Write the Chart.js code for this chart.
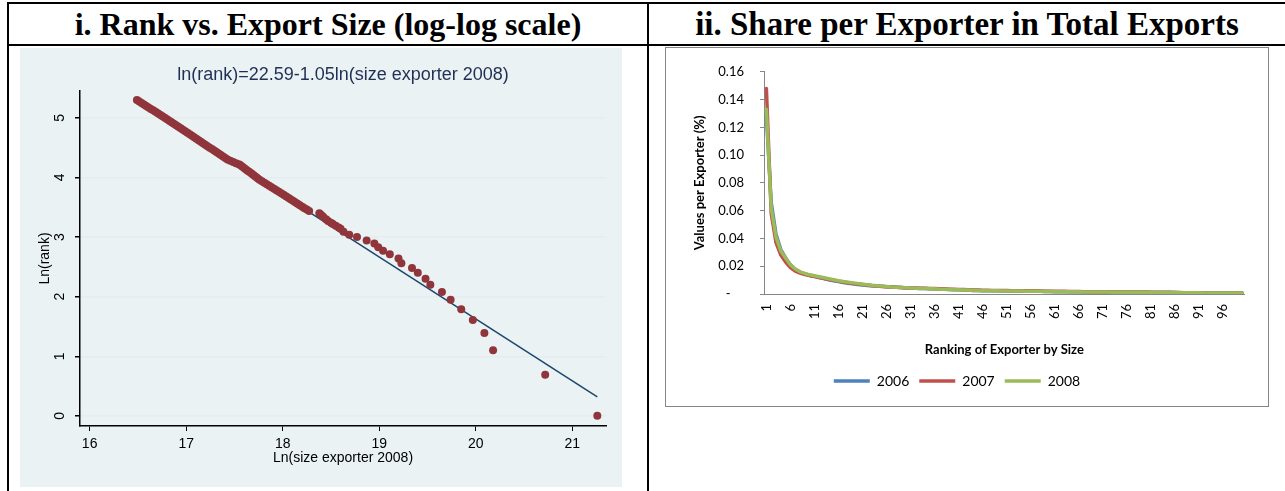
<!DOCTYPE html>
<html lang="en">
<head>
<meta charset="UTF-8">
<title>Rank vs. Export Size / Share per Exporter</title>
<script src="https://cdn.jsdelivr.net/npm/chart.js"></script>
<style>
  body { margin: 0; background: #fff; }
  #page { position: relative; width: 1285px; height: 491px; overflow: hidden; }
  .rule { position: absolute; background: #000; }
  .head {
    position: absolute; top: 4px; height: 40px; line-height: 40px;
    font-family: "Liberation Serif", "Times New Roman", serif;
    font-weight: bold; font-size: 32px; text-align: center; color: #000;
  }
  #leftBox { position: absolute; left: 20px; top: 48px; width: 602px; height: 439px; background: #eaf2f3; }
  #rightBox { position: absolute; left: 665px; top: 47px; width: 604px; height: 360px; border: 1px solid #868686; box-sizing: border-box; }
</style>
</head>
<body>
<div id="page">
  <div class="rule" style="left:7px; top:2px; width:1278px; height:2px;"></div>
  <div class="rule" style="left:7px; top:44px; width:1278px; height:2px;"></div>
  <div class="rule" style="left:7px; top:2px; width:2px; height:489px;"></div>
  <div class="rule" style="left:647px; top:2px; width:2px; height:489px;"></div>
  <div class="head" style="left:9px; width:638px;">i. Rank vs. Export Size (log-log scale)</div>
  <div class="head" style="left:649px; width:636px; font-size:33px;">ii. Share per Exporter in Total Exports</div>

  <div id="leftBox"><canvas id="rankChart" width="602" height="439"></canvas></div>
  <div id="rightBox"><canvas id="shareChart" width="602" height="358"></canvas></div>
</div>

<script>
// ---------- panel i: rank vs size (log-log) ----------
const lnSize = [
  16.490, 16.514, 16.538, 16.562, 16.586, 16.610, 16.634, 16.658, 16.682, 16.706, 16.730, 16.754, 16.778,
  16.802, 16.825, 16.849, 16.872, 16.896, 16.919, 16.943, 16.966, 16.990, 17.013, 17.037, 17.060,
  17.083, 17.106, 17.129, 17.152, 17.175, 17.198, 17.221, 17.244, 17.267, 17.290, 17.313, 17.336, 17.359, 17.382, 17.405, 17.428,
  17.457, 17.487, 17.516, 17.545, 17.560,
  17.580, 17.600, 17.620, 17.640, 17.660, 17.680, 17.700, 17.720, 17.740, 17.760,
  17.785, 17.810, 17.835, 17.860, 17.885, 17.910, 17.935, 17.960, 17.985, 18.010,
  18.034, 18.058, 18.082, 18.106, 18.130, 18.154, 18.178, 18.202, 18.226, 18.250, 18.274,
  18.38, 18.40, 18.42, 18.45, 18.47, 18.50, 18.52, 18.55, 18.58, 18.60, 18.63, 18.69, 18.77, 18.87,
  18.95, 18.99, 19.04, 19.11, 19.20, 19.23, 19.34, 19.40, 19.48, 19.53, 19.65, 19.74, 19.85, 19.97,
  20.09, 20.18, 20.72, 21.26
];
const lnRank = [
  5.300, 5.275, 5.250, 5.225, 5.200, 5.175, 5.150, 5.125, 5.100, 5.075, 5.050, 5.025, 5.000,
  4.975, 4.950, 4.925, 4.900, 4.875, 4.850, 4.825, 4.800, 4.775, 4.750, 4.725, 4.700,
  4.675, 4.650, 4.625, 4.600, 4.575, 4.550, 4.525, 4.500, 4.475, 4.450, 4.425, 4.400, 4.375, 4.350, 4.325, 4.300,
  4.280, 4.260, 4.240, 4.220, 4.210,
  4.185, 4.160, 4.135, 4.110, 4.085, 4.060, 4.035, 4.010, 3.985, 3.960,
  3.935, 3.910, 3.885, 3.860, 3.835, 3.810, 3.785, 3.760, 3.735, 3.710,
  3.685, 3.660, 3.635, 3.610, 3.585, 3.560, 3.535, 3.510, 3.485, 3.460, 3.435,
  3.40, 3.37, 3.34, 3.30, 3.27, 3.24, 3.22, 3.19, 3.16, 3.14, 3.09, 3.04, 3.00, 2.94,
  2.89, 2.83, 2.77, 2.71, 2.64, 2.56, 2.48, 2.40, 2.30, 2.20, 2.08, 1.95, 1.79, 1.61,
  1.39, 1.10, 0.69, 0.00
];
const fitX = [16.49, 21.26];
const fitY = [5.27, 0.32];
const rankXTicks = [16, 17, 18, 19, 20, 21];
const rankYTicks = [0, 1, 2, 3, 4, 5];
const fitTitle = 'ln(rank)=22.59-1.05ln(size exporter 2008)';

// ---------- panel ii: share per exporter ----------
const ranks = ['1','2','3','4','5','6','7','8','9','10','11','12','13','14','15','16','17','18','19','20',
  '21','22','23','24','25','26','27','28','29','30','31','32','33','34','35','36','37','38','39','40',
  '41','42','43','44','45','46','47','48','49','50','51','52','53','54','55','56','57','58','59','60',
  '61','62','63','64','65','66','67','68','69','70','71','72','73','74','75','76','77','78','79','80',
  '81','82','83','84','85','86','87','88','89','90','91','92','93','94','95','96','97','98','99','100'];
const share2006 = [
  0.128, 0.066, 0.043, 0.032, 0.026, 0.021, 0.0178, 0.0158, 0.0145, 0.0135,
  0.0127, 0.0119, 0.0111, 0.0103, 0.0096, 0.0089, 0.0083, 0.0078, 0.0073, 0.0069,
  0.0065, 0.0062, 0.0059, 0.0057, 0.0055, 0.0053, 0.0051, 0.0049, 0.0047, 0.0045,
  0.0043, 0.0041, 0.0040, 0.0039, 0.0038, 0.0037, 0.0035, 0.0034, 0.0033, 0.0031,
  0.0030, 0.0029, 0.0028, 0.0026, 0.0025,
  0.0024, 0.0024, 0.0023, 0.0023, 0.0022, 0.0022, 0.0021, 0.0021, 0.0021, 0.0020, 0.0020, 0.0020, 0.0019,
  0.0018, 0.0018, 0.0017, 0.0017, 0.0017, 0.0016, 0.0016, 0.0016, 0.0015, 0.0015, 0.0015, 0.0014,
  0.0014, 0.0014, 0.0013, 0.0013, 0.0013, 0.0013, 0.0012, 0.0012, 0.0012, 0.0012, 0.0011, 0.0011,
  0.0010, 0.0010, 0.0010, 0.0010, 0.0009, 0.0009, 0.0009, 0.0009, 0.0009, 0.0008,
  0.0008, 0.0008, 0.0008, 0.0008, 0.0007, 0.0007, 0.0007, 0.0007
];
const share2007 = [
  0.148, 0.058, 0.037, 0.028, 0.023, 0.019, 0.0165, 0.0150, 0.0140, 0.0132,
  0.0126, 0.0119, 0.0112, 0.0105, 0.0099, 0.0092, 0.0086, 0.0081, 0.0076, 0.0072,
  0.0068, 0.0064, 0.0060, 0.0057, 0.0054, 0.0052, 0.0050, 0.0048, 0.0046, 0.0044,
  0.0044, 0.0043, 0.0042, 0.0041, 0.0040, 0.0039, 0.0038, 0.0037, 0.0035, 0.0034,
  0.0033, 0.0032, 0.0031, 0.0029, 0.0028,
  0.0027, 0.0027, 0.0026, 0.0026, 0.0025, 0.0025, 0.0024, 0.0024, 0.0024, 0.0023, 0.0023, 0.0023, 0.0022,
  0.0020, 0.0020, 0.0019, 0.0019, 0.0019, 0.0018, 0.0018, 0.0018, 0.0017, 0.0017, 0.0017, 0.0016,
  0.0016, 0.0016, 0.0015, 0.0015, 0.0015, 0.0015, 0.0014, 0.0014, 0.0014, 0.0014, 0.0013, 0.0013,
  0.0013, 0.0012, 0.0012, 0.0011, 0.0010, 0.0009, 0.0009, 0.0009, 0.0009, 0.0008,
  0.0008, 0.0008, 0.0008, 0.0008, 0.0007, 0.0007, 0.0007, 0.0007
];
const share2008 = [
  0.133, 0.062, 0.041, 0.031, 0.026, 0.021, 0.018, 0.016, 0.0148, 0.0138,
  0.0131, 0.0124, 0.0117, 0.0110, 0.0103, 0.0096, 0.0090, 0.0085, 0.0080, 0.0075,
  0.0071, 0.0067, 0.0063, 0.0060, 0.0057, 0.0054, 0.0051, 0.0049, 0.0047, 0.0045,
  0.0043, 0.0041, 0.0040, 0.0039, 0.0038, 0.0037, 0.0035, 0.0034, 0.0033, 0.0031,
  0.0030, 0.0029, 0.0028, 0.0026, 0.0025,
  0.0024, 0.0024, 0.0023, 0.0023, 0.0022, 0.0022, 0.0021, 0.0021, 0.0021, 0.0020, 0.0020, 0.0020, 0.0019,
  0.0018, 0.0018, 0.0017, 0.0017, 0.0017, 0.0016, 0.0016, 0.0016, 0.0015, 0.0015, 0.0015, 0.0014,
  0.0014, 0.0014, 0.0013, 0.0013, 0.0013, 0.0013, 0.0012, 0.0012, 0.0012, 0.0012, 0.0011, 0.0011,
  0.0010, 0.0010, 0.0010, 0.0010, 0.0009, 0.0009, 0.0009, 0.0009, 0.0009, 0.0008,
  0.0008, 0.0008, 0.0008, 0.0008, 0.0007, 0.0007, 0.0007, 0.0007
];
const shareYTicks = [0, 0.02, 0.04, 0.06, 0.08, 0.10, 0.12, 0.14, 0.16];

Chart.defaults.animation = false;

// Stata draws the y tick labels turned on their side
const sidewaysYLabels = {
  id: 'sidewaysYLabels',
  afterDraw(chart) {
    const s = chart.scales.y;
    const ctx = chart.ctx;
    ctx.save();
    ctx.font = '14px "Liberation Sans", Arial, sans-serif';
    ctx.fillStyle = '#000';
    ctx.textAlign = 'center';
    ctx.textBaseline = 'middle';
    s.ticks.forEach(t => {
      ctx.save();
      ctx.translate(s.right - 20, s.getPixelForValue(t.value));
      ctx.rotate(-Math.PI / 2);
      ctx.fillText(String(t.value), 0, 0);
      ctx.restore();
    });
    ctx.restore();
  }
};

new Chart(document.getElementById('rankChart'), {
  type: 'scatter',
  data: {
    datasets: [
      {
        type: 'scatter',
        data: lnSize.map((x, i) => ({ x: x, y: lnRank[i] })),
        backgroundColor: '#90353b',
        borderWidth: 0,
        pointRadius: 4,
        order: 0
      },
      {
        type: 'line',
        data: fitX.map((x, i) => ({ x: x, y: fitY[i] })),
        borderColor: '#1a476f',
        borderWidth: 1.5,
        pointRadius: 0,
        fill: false,
        order: 1
      }
    ]
  },
  options: {
    responsive: false,
    layout: { padding: { left: 0, right: 16, top: 0, bottom: 20 } },
    plugins: {
      legend: { display: false },
      tooltip: { enabled: false },
      title: {
        display: true,
        text: fitTitle,
        fullSize: false,
        color: '#1f3054',
        font: { family: '"Liberation Sans", Arial, sans-serif', size: 18, weight: 'normal' },
        padding: { top: 16, bottom: 5.4 }
      }
    },
    scales: {
      x: {
        type: 'linear',
        min: 15.9,
        max: 21.35,
        afterBuildTicks: s => { s.ticks = rankXTicks.map(v => ({ value: v })); },
        afterFit: s => { s.height = 41; },
        ticks: { color: '#000', padding: 5, font: { family: '"Liberation Sans", Arial, sans-serif', size: 14 } },
        grid: { drawOnChartArea: false, tickLength: 5, tickColor: '#000' },
        border: { color: '#000', width: 1.5 },
        title: { display: true, text: 'Ln(size exporter 2008)', color: '#000', padding: 0,
                 font: { family: '"Liberation Sans", Arial, sans-serif', size: 14 } }
      },
      y: {
        min: -0.17,
        max: 5.45,
        afterBuildTicks: s => { s.ticks = rankYTicks.map(v => ({ value: v })); },
        afterFit: s => { s.width = 60; },
        ticks: { display: false },
        grid: { color: '#e4eef0', lineWidth: 1.5, tickLength: 5, tickColor: '#000' },
        border: { color: '#000', width: 1.5 },
        title: { display: true, text: 'Ln(rank)', color: '#000', padding: { top: 16.6, bottom: 0 },
                 font: { family: '"Liberation Sans", Arial, sans-serif', size: 14 } }
      }
    }
  },
  plugins: [sidewaysYLabels]
});

const excelFont = '"Lato", "Open Sans", sans-serif';

new Chart(document.getElementById('shareChart'), {
  type: 'line',
  data: {
    labels: ranks,
    datasets: [
      { label: '2006', data: share2006, borderColor: '#4f81bd', backgroundColor: '#4f81bd', borderWidth: 3.5, order: 2 },
      { label: '2007', data: share2007, borderColor: '#c0504d', backgroundColor: '#c0504d', borderWidth: 3.5, order: 1 },
      { label: '2008', data: share2008, borderColor: '#9bbb59', backgroundColor: '#9bbb59', borderWidth: 3.5, order: 0 }
    ]
  },
  options: {
    responsive: false,
    elements: {
      line: { tension: 0, borderJoinStyle: 'round', borderCapStyle: 'round' },
      point: { radius: 0 }
    },
    layout: { padding: { left: 0, right: 20, top: 9, bottom: 8 } },
    plugins: {
      tooltip: { enabled: false },
      legend: {
        position: 'bottom',
        labels: {
          sort: (a, b) => a.datasetIndex - b.datasetIndex,
          usePointStyle: true,
          pointStyle: 'line',
          pointStyleWidth: 36,
          color: '#000',
          padding: 10,
          font: { family: excelFont, size: 14 }
        }
      }
    },
    scales: {
      x: {
        offset: true,
        afterFit: s => { s.height = 70; },
        ticks: {
          autoSkip: false,
          minRotation: 90,
          maxRotation: 90,
          padding: 10,
          color: '#000',
          font: { family: excelFont, size: 13 },
          callback: (v, i) => (i % 5 === 0 ? ranks[i] : '')
        },
        grid: { display: false, drawTicks: false },
        border: { display: true, color: '#868686', width: 1 },
        title: { display: true, text: 'Ranking of Exporter by Size', color: '#000', padding: { top: 0, bottom: 6 },
                 font: { family: excelFont, size: 13, weight: 'bold' } }
      },
      y: {
        min: 0,
        max: 0.16,
        afterBuildTicks: s => { s.ticks = shareYTicks.map(v => ({ value: v })); },
        afterFit: s => { s.width = 98; },
        ticks: {
          padding: 16,
          color: '#000',
          font: { family: excelFont, size: 13 },
          callback: v => (v === 0 ? '-    ' : v.toFixed(2))
        },
        grid: { drawOnChartArea: false, tickLength: 4, tickColor: '#868686' },
        border: { display: true, color: '#868686', width: 1 },
        title: { display: true, text: 'Values per Exporter (%)', color: '#000', padding: { top: 26, bottom: 0 },
                 font: { family: excelFont, size: 13, weight: 'bold' } }
      }
    }
  }
});
</script>
</body>
</html>
